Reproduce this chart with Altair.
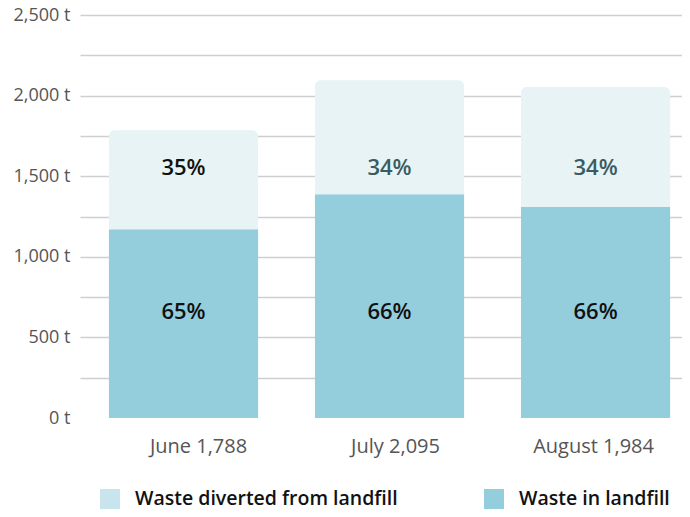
import altair as alt
import pandas as pd

months = ["June 1,788", "July 2,095", "August 1,984"]
landfill = [1171, 1388, 1309]
diverted = [614, 707, 744]
landfill_pct = ["65%", "66%", "66%"]
diverted_pct = ["35%", "34%", "34%"]
series_names = ["Waste diverted from landfill", "Waste in landfill"]
y_ticks = list(range(0, 2501, 250))

FONT = "Open Sans"

df = pd.DataFrame({
    "month": months,
    "landfill": landfill,
    "diverted": diverted,
    "landfill_pct": landfill_pct,
    "diverted_pct": diverted_pct,
})
df["total"] = df["landfill"] + df["diverted"]

base = alt.Chart(df)

x_enc = alt.X(
    "month:N",
    sort=months,
    title=None,
    scale=alt.Scale(paddingInner=0.276, paddingOuter=0.099, align=0.709),
    axis=alt.Axis(
        labelAngle=0, domain=False, ticks=False, labelPadding=18,
        labelFontSize=20, labelColor="#555555", labelFont=FONT,
        labelOffset={
            "condition": [
                {"test": f"datum.value == '{months[0]}'", "value": 15},
                {"test": f"datum.value == '{months[1]}'", "value": 6},
            ],
            "value": -2,
        },
    ),
)

y_scale = alt.Scale(domain=[0, 2500], nice=False)
y_axis = alt.Axis(
    values=y_ticks,
    labelExpr="datum.value % 500 == 0 ? format(datum.value, ',') + ' t' : ''",
    domain=False, ticks=False, labelPadding=10,
    labelFontSize=18, labelColor="#555555", labelFont=FONT,
    gridColor={"condition": {"test": "datum.value == 0", "value": "transparent"}, "value": "#cfcfcf"},
    gridWidth=1.5,
)

bars_landfill = base.mark_bar(color="#94CDDB").encode(
    x=x_enc,
    y=alt.Y("landfill:Q", scale=y_scale, axis=y_axis, title=None),
)

bars_diverted = base.mark_bar(
    color="#E7F3F5", cornerRadiusTopLeft=6, cornerRadiusTopRight=6
).encode(
    x=alt.X("month:N", sort=months),
    y=alt.Y("total:Q"),
    y2="landfill:Q",
)

text_landfill = base.mark_text(
    fontSize=22, fontWeight=600, font=FONT, color="#111111", baseline="middle"
).encode(
    x=alt.X("month:N", sort=months),
    y=alt.datum(656),
    text="landfill_pct:N",
)

text_diverted = base.mark_text(
    fontSize=22, fontWeight=600, font=FONT, baseline="middle"
).encode(
    x=alt.X("month:N", sort=months),
    y=alt.datum(1549),
    text="diverted_pct:N",
    color=alt.condition(alt.datum.month == months[0], alt.value("#111111"), alt.value("#3B5B62")),
)

legend_layer = alt.Chart(pd.DataFrame({"series": series_names})).mark_square(size=0).encode(
    fill=alt.Fill(
        "series:N",
        sort=series_names,
        scale=alt.Scale(domain=series_names, range=["#C8E4EC", "#94CDDB"]),
        legend=alt.Legend(
            title=None, orient="none", legendX=20, legendY=474, direction="horizontal",
            symbolType="square", symbolSize=400, symbolOpacity=1, symbolStrokeWidth=0,
            labelFontSize=19.5, labelFontWeight=600, labelFont=FONT, labelColor="#111111",
            labelOffset=15, columnPadding=86, padding=0, labelLimit=400,
        ),
    )
)

chart = alt.layer(
    bars_landfill, bars_diverted, text_landfill, text_diverted, legend_layer
).properties(
    width=602, height=403, autosize="none",
    padding={"left": 72, "top": 7, "right": 0, "bottom": 94},
).configure_view(stroke=None)

chart.save("out.html", embed_options={"renderer": "svg", "actions": False})
